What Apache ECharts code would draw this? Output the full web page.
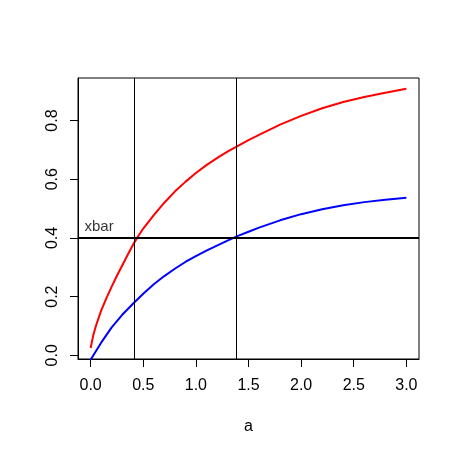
<!DOCTYPE html>
<html>
<head>
<meta charset="utf-8">
<script src="https://cdn.jsdelivr.net/npm/echarts@6/dist/echarts.min.js"></script>
<style>
html,body{margin:0;padding:0;background:#fff;}
#c{width:459px;height:457px;}
</style>
</head>
<body>
<div id="c"></div>
<script>
// Red curve
const redA = [0, 0.025, 0.05, 0.1, 0.15, 0.2, 0.25, 0.3, 0.35, 0.4, 0.45, 0.5, 0.6, 0.7, 0.8, 0.9, 1.0, 1.1, 1.2, 1.3, 1.4, 1.5, 1.6, 1.8, 2.0, 2.2, 2.4, 2.6, 2.8, 3.0];
const redY = [0.025, 0.068, 0.10, 0.152, 0.195, 0.234, 0.271, 0.306, 0.341, 0.375, 0.405, 0.432, 0.478, 0.52, 0.558, 0.591, 0.621, 0.648, 0.672, 0.694, 0.714, 0.733, 0.751, 0.786, 0.816, 0.842, 0.863, 0.880, 0.895, 0.908];
// Blue curve
const blueA = [0, 0.1, 0.2, 0.3, 0.4, 0.5, 0.6, 0.7, 0.8, 0.9, 1.0, 1.1, 1.2, 1.3, 1.4, 1.5, 1.6, 1.8, 2.0, 2.2, 2.4, 2.6, 2.8, 3.0];
const blueY = [-0.015, 0.043, 0.095, 0.138, 0.175, 0.21, 0.242, 0.27, 0.295, 0.318, 0.338, 0.357, 0.374, 0.391, 0.407, 0.421, 0.435, 0.460, 0.481, 0.498, 0.511, 0.522, 0.530, 0.537];
// Reference lines
const vLines = [0.406, 1.384];
const hLine = 0.4;
// Annotation
const noteText = 'xbar';
const notePos = [0.08, 0.437];
// Ticks
const xTicks = [0, 0.5, 1.0, 1.5, 2.0, 2.5, 3.0];
const yTicks = [0, 0.2, 0.4, 0.6, 0.8];
const xName = 'a';

const font = 'Liberation Sans, Arial, sans-serif';
const chart = echarts.init(document.getElementById('c'), null, {renderer:'canvas'});
chart.setOption({
  animation: false,
  backgroundColor: '#fff',
  grid: {left: 78, right: 40, top: 78, bottom: 98, show: true, borderColor: '#000', borderWidth: 1, backgroundColor: 'transparent'},
  xAxis: {
    type: 'value', min: -0.12, max: 3.12,
    name: xName, nameLocation: 'middle', nameGap: 60,
    nameTextStyle: {color: '#000', fontFamily: font, fontSize: 16},
    axisLine: {show: true, onZero: false, lineStyle: {color: '#000', width: 1}},
    axisTick: {show: true, customValues: xTicks, length: 8, lineStyle: {color: '#000'}},
    axisLabel: {show: true, customValues: xTicks, margin: 19, color: '#000', fontFamily: font, fontSize: 16,
      formatter: v => v.toFixed(1)},
    splitLine: {show: false}
  },
  yAxis: {
    type: 'value', min: -0.0126, max: 0.945,
    axisLine: {show: true, onZero: false, lineStyle: {color: '#000', width: 1}},
    axisTick: {show: true, customValues: yTicks, length: 8, lineStyle: {color: '#000'}},
    axisLabel: {show: true, customValues: yTicks, rotate: 90, margin: 17, color: '#000', fontFamily: font, fontSize: 16,
      formatter: v => v.toFixed(1)},
    splitLine: {show: false}
  },
  series: [
    {
      type: 'line', data: redA.map((a, i) => [a, redY[i]]), smooth: false, showSymbol: false,
      lineStyle: {color: '#ff0000', width: 2}, clip: true, z: 3
    },
    {
      type: 'line', data: blueA.map((a, i) => [a, blueY[i]]), smooth: false, showSymbol: false,
      lineStyle: {color: '#0000ff', width: 2}, clip: true, z: 3,
      markLine: {
        silent: true, symbol: ['none', 'none'], label: {show: false},
        data: [
          ...vLines.map(v => ({xAxis: v, lineStyle: {color: '#000', width: 1, type: 'solid'}})),
          {yAxis: hLine, lineStyle: {color: '#000', width: 2.2, type: 'solid'}}
        ]
      }
    },
    {
      type: 'scatter', data: [notePos], symbolSize: 0,
      label: {show: true, position: 'inside', formatter: noteText, color: '#000', fontFamily: font, fontSize: 15}
    }
  ]
});
</script>
</body>
</html>
